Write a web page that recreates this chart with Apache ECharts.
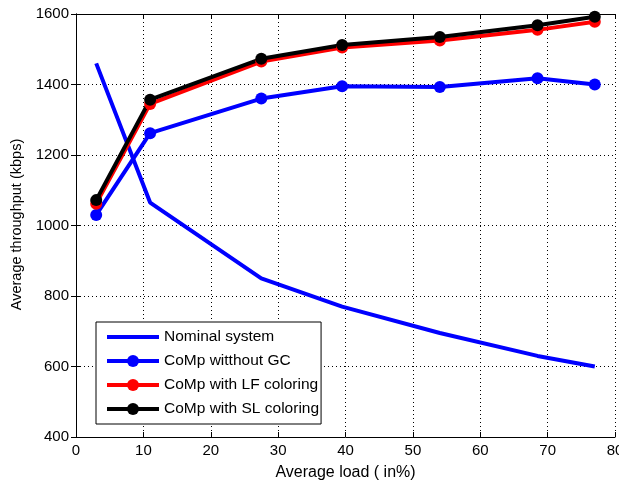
<!DOCTYPE html>
<html>
<head>
<meta charset="utf-8">
<script src="https://cdn.jsdelivr.net/npm/echarts@6/dist/echarts.min.js"></script>
<style>
  html, body { margin: 0; padding: 0; background: #fff; }
  #chart { width: 619px; height: 483px; }
</style>
</head>
<body>
<div id="chart"></div>
<script>
// Load levels (%) at which throughput was measured
const loads = [3, 11, 27.5, 39.5, 54, 68.5, 77];

// Average throughput (kbps) for each scheme
const nominalSystem = [1460, 1065, 850, 770, 695, 630, 600];
const compWithoutGC = [1030, 1262, 1360, 1395, 1393, 1418, 1400];
const compLFColoring = [1062, 1345, 1465, 1505, 1525, 1555, 1578];
const compSLColoring = [1072, 1357, 1473, 1512, 1535, 1568, 1592];

const seriesNames = [
  'Nominal system',
  'CoMp witthout GC',
  'CoMp with LF coloring',
  'CoMp with SL coloring'
];

const xTicks = { min: 0, max: 80, interval: 10 };
const yTicks = { min: 400, max: 1600, interval: 200 };

const FONT = 'Liberation Sans, Arial, sans-serif';

function pairs(values) {
  return loads.map((x, i) => [x, values[i]]);
}

function lineSeries(name, values, color, withMarker) {
  return {
    name: name,
    type: 'line',
    data: pairs(values),
    symbol: 'circle',
    symbolSize: 12,
    showSymbol: withMarker,
    lineStyle: { color: color, width: 4 },
    itemStyle: { color: color },
    emphasis: { disabled: true },
    animation: false,
    z: 3
  };
}

const chart = echarts.init(document.getElementById('chart'), null, { renderer: 'canvas' });

const tickLabel = { color: '#000', fontFamily: FONT, fontSize: 15 };
const axisCommon = {
  axisLine: { show: true, lineStyle: { color: '#000', width: 1 } },
  axisTick: { show: true, inside: true, length: 5, lineStyle: { color: '#000' } }
};
const dotted = { show: true, lineStyle: { color: '#000', type: [1, 3], width: 1 } };

// Legend entries; the nominal curve has no markers, so its key hides the dot
const legendData = seriesNames.map((name, i) => i === 0
  ? { name: name, itemStyle: { color: 'rgba(0,0,0,0)', opacity: 0 } }
  : { name: name });

chart.setOption({
  backgroundColor: '#fff',
  animation: false,
  grid: { left: 76, right: 4, top: 14, bottom: 46, containLabel: false, outerBoundsMode: 'none' },
  xAxis: [
    Object.assign({}, axisCommon, {
      type: 'value',
      min: xTicks.min, max: xTicks.max, interval: xTicks.interval,
      name: 'Average load ( in%)',
      nameLocation: 'middle',
      nameGap: 28,
      nameTextStyle: { color: '#000', fontFamily: FONT, fontSize: 16 },
      axisLabel: Object.assign({ margin: 6 }, tickLabel),
      splitLine: dotted
    }),
    Object.assign({}, axisCommon, {
      type: 'value', position: 'top',
      min: xTicks.min, max: xTicks.max, interval: xTicks.interval,
      axisLabel: { show: false },
      splitLine: { show: false }
    })
  ],
  yAxis: [
    Object.assign({}, axisCommon, {
      type: 'value',
      min: yTicks.min, max: yTicks.max, interval: yTicks.interval,
      name: 'Average throughput (kbps)',
      nameLocation: 'middle',
      nameGap: 33,
      nameRotate: 90,
      nameTextStyle: { color: '#000', fontFamily: FONT, fontSize: 14.5, padding: [0, 0, 0, 2] },
      axisLabel: Object.assign({ margin: 7, formatter: (v) => String(v) }, tickLabel),
      splitLine: dotted
    }),
    Object.assign({}, axisCommon, {
      type: 'value', position: 'right',
      min: yTicks.min, max: yTicks.max, interval: yTicks.interval,
      axisLabel: { show: false },
      splitLine: { show: false }
    })
  ],
  legend: {
    show: true,
    orient: 'vertical',
    left: 96,
    top: 322,
    padding: [7, 2, 7, 9],
    itemGap: 8,
    itemWidth: 52,
    itemHeight: 15,
    backgroundColor: '#fff',
    borderColor: '#000',
    borderWidth: 1,
    borderRadius: 0,
    selectedMode: false,
    lineStyle: { width: 4 },
    textStyle: { color: '#000', fontFamily: FONT, fontSize: 15.5, lineHeight: 15 },
    data: legendData
  },
  series: [
    lineSeries(seriesNames[0], nominalSystem, '#0000ff', false),
    lineSeries(seriesNames[1], compWithoutGC, '#0000ff', true),
    lineSeries(seriesNames[2], compLFColoring, '#ff0000', true),
    lineSeries(seriesNames[3], compSLColoring, '#000000', true)
  ]
});
</script>
</body>
</html>
